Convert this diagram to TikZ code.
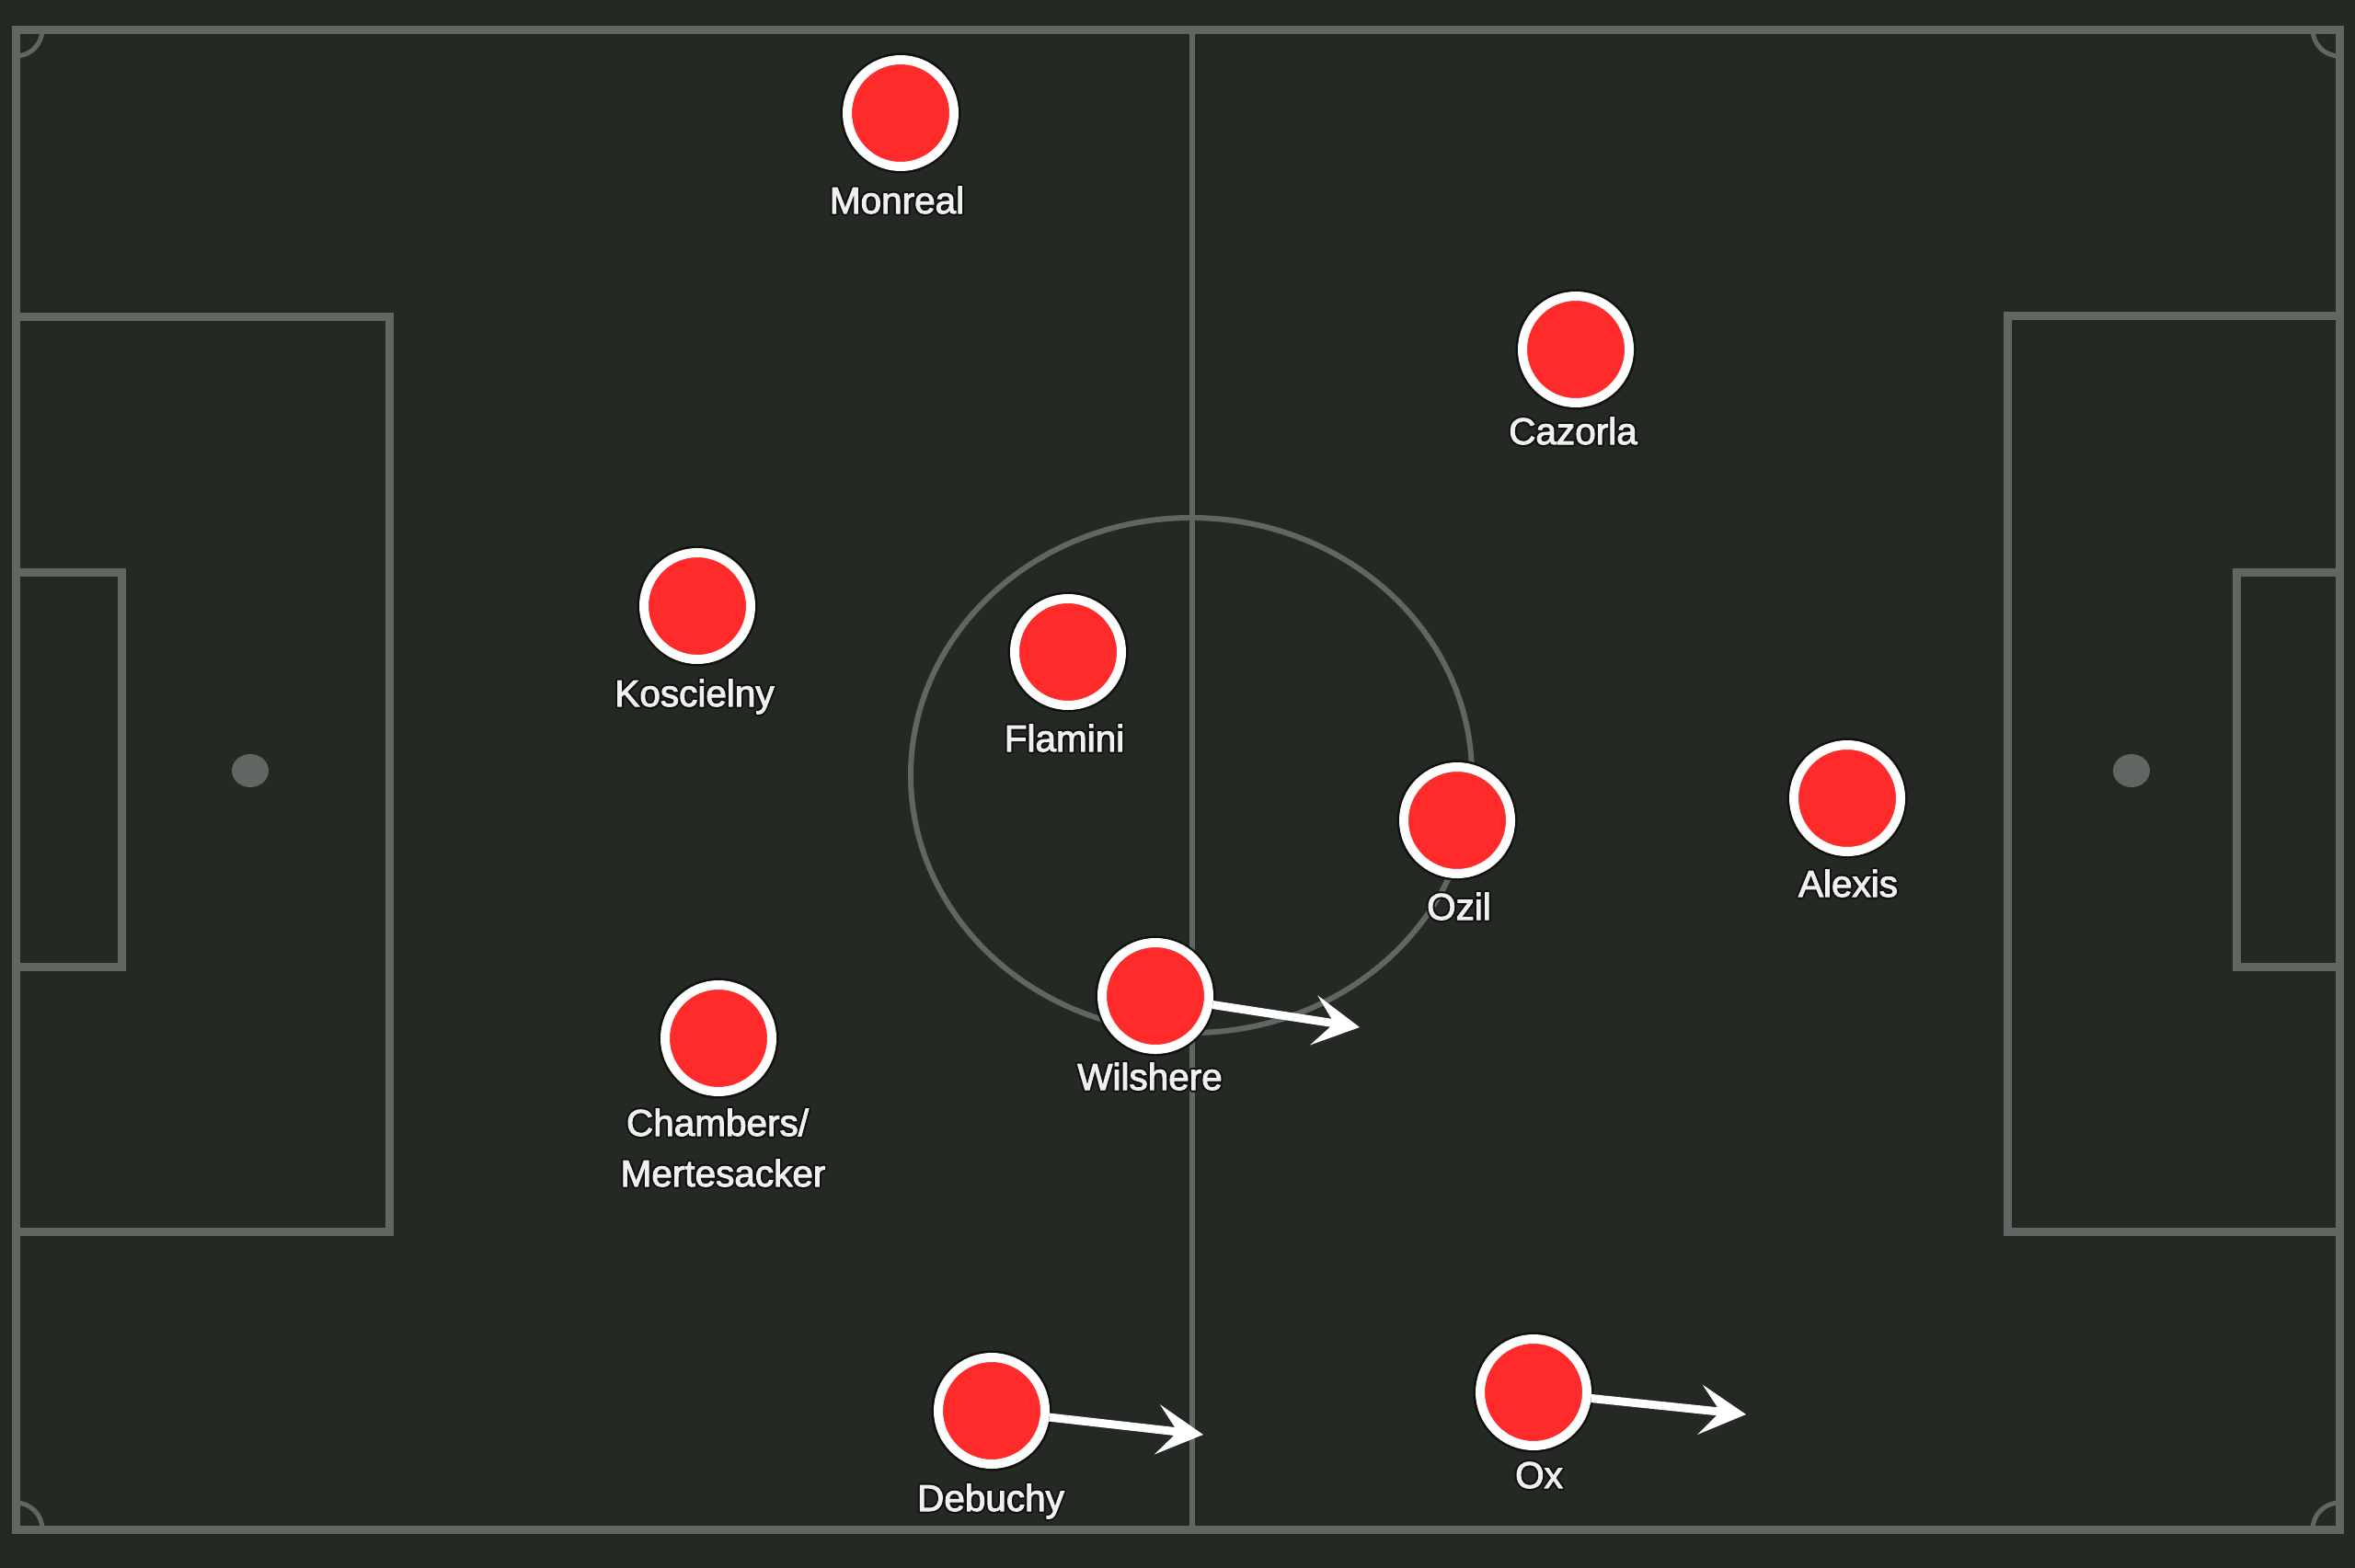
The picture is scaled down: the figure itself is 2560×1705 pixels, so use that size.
\documentclass[tikz,border=0pt]{standalone}
\usepackage{fontspec}
\setmainfont{Liberation Sans}
\newfontfamily\lblfont[FakeBold=2.5]{Liberation Sans}
\usetikzlibrary{arrows.meta}
\definecolor{bg}{HTML}{242924}
\definecolor{lc}{HTML}{606762}
\definecolor{pred}{HTML}{FF2A2A}
\definecolor{halo}{HTML}{0E110E}
\definecolor{txt}{HTML}{F0F0F0}
\newcommand\hcopy[3]{\rlap{\kern#1\raisebox{#2}{\textcolor{halo}{#3}}}}
\newcommand\halo[1]{\leavevmode\hcopy{-2pt}{0pt}{#1}\hcopy{2pt}{0pt}{#1}\hcopy{0pt}{2pt}{#1}\hcopy{0pt}{-2pt}{#1}\hcopy{-1.5pt}{1.5pt}{#1}\hcopy{1.5pt}{1.5pt}{#1}\hcopy{-1.5pt}{-1.5pt}{#1}\hcopy{1.5pt}{-1.5pt}{#1}#1}
\tikzset{
  pitchline/.style={draw=lc, line width=9pt},
  thinline/.style={draw=lc, line width=6pt},
  cornerline/.style={draw=lc, line width=5pt},
  spot/.style={fill=lc},
  player/.style={circle, minimum size=116pt, inner sep=0pt, fill=pred, draw=white, line width=10pt, preaction={draw=halo, line width=15pt}},
  plabel/.style={anchor=base, inner sep=0pt, text=txt, font=\lblfont\fontsize{40.5}{55}\selectfont},
  mvarrow/.style={draw=white, line width=9pt, -{Stealth[length=50pt,width=54pt,inset=22pt]}}
}
\begin{document}
\begin{tikzpicture}[x=1pt, y=-1pt]
\useasboundingbox (0,0) rectangle (2560,1705);
\fill[bg] (0,0) rectangle (2560,1705);
% pitch
\draw[pitchline] (17,32) rectangle (2543,1663);
\draw[pitchline] (17,344) rectangle (423,1339);
\draw[pitchline] (2543,343) rectangle (2182,1339);
\draw[pitchline] (17,622) rectangle (132,1051);
\draw[pitchline] (2543,622) rectangle (2431,1051);
\fill[spot] (272,838) ellipse [x radius=20, y radius=18];
\fill[spot] (2317,838) ellipse [x radius=20, y radius=18];
\draw[thinline] (1296,32) -- (1296,1663);
\draw[thinline] (1295,843) ellipse [x radius=305, y radius=280];
\begin{scope}
  \clip (17,32) rectangle (2543,1663);
  \draw[cornerline] (17,32) circle [radius=29];
  \draw[cornerline] (2543,32) circle [radius=29];
  \draw[cornerline] (17,1663) circle [radius=29];
  \draw[cornerline] (2543,1663) circle [radius=29];
\end{scope}
% arrow targets
\coordinate (wilT) at (1478,1117);
\coordinate (debT) at (1308,1560);
\coordinate (oxT) at (1898,1538);
% players
\node[player] (mon) at (979,123) {};
\node[player] (caz) at (1713,380) {};
\node[player] (kos) at (758,659) {};
\node[player] (fla) at (1161,709) {};
\node[player] (ozi) at (1584,892) {};
\node[player] (ale) at (2008,868) {};
\node[player] (wil) at (1256,1083) {};
\node[player] (cha) at (781,1129) {};
\node[player] (deb) at (1078,1534) {};
\node[player] (ox) at (1667,1514) {};
% arrows
\draw[mvarrow] (wil) -- (wilT);
\draw[mvarrow] (deb) -- (debT);
\draw[mvarrow] (ox) -- (oxT);
% labels
\node[plabel] (monL) at (975,232) {\halo{Monreal}};
\node[plabel] (cazL) at (1710,483) {\halo{Cazorla}};
\node[plabel] (kosL) at (755,768) {\halo{Koscielny}};
\node[plabel] (flaL) at (1157,817) {\halo{Flamini}};
\node[plabel] (oziL) at (1586,1000) {\halo{Ozil}};
\node[plabel] (aleL) at (2009,975) {\halo{Alexis}};
\node[plabel] (wilL) at (1250,1185) {\halo{Wilshere}};
\node[plabel] (chaL1) at (780,1235) {\halo{Chambers/}};
\node[plabel] (chaL2) at (786,1290) {\halo{Mertesacker}};
\node[plabel] (debL) at (1077,1643) {\halo{Debuchy}};
\node[plabel] (oxL) at (1673,1618) {\halo{Ox}};
\end{tikzpicture}
\end{document}
